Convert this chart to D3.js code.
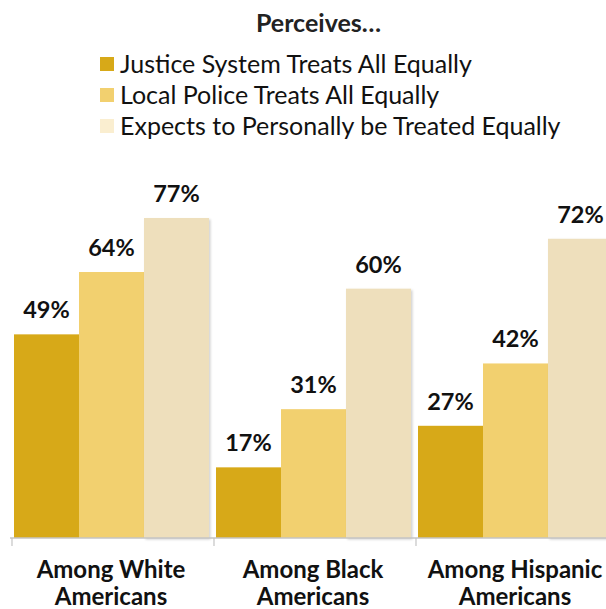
<!DOCTYPE html>
<html>
<head>
<meta charset="utf-8">
<script src="https://cdn.jsdelivr.net/npm/d3@7"></script>
<style>
  body { margin: 0; background: #fff; }
  svg { display: block; font-family: Lato, 'Open Sans', sans-serif; }
  .barLabel { font-weight: 700; font-size: 23.5px; fill: #111; }
  .catLabel { font-weight: 700; font-size: 24px; fill: #111; }
  .legend text { font-size: 25px; fill: #111; }
  .title { font-weight: 700; font-size: 25px; fill: #222; }
</style>
</head>
<body>
<div class="container"></div>
<script>
  const categories = [['Among White', 'Americans'], ['Among Black', 'Americans'], ['Among Hispanic', 'Americans']]
  const seriesNames = ['Justice System Treats All Equally', 'Local Police Treats All Equally', 'Expects to Personally be Treated Equally']
  const justice = [49, 17, 27]
  const police = [64, 31, 42]
  const personal = [77, 60, 72]
  const colors = ['#D7A918', '#F2D06F', '#EEDFBC']
  const legendColors = ['#D7A918', '#F2D06F', '#FAEED0']

  var width = 606
  var height = 609
  var series = [justice, police, personal]

  var svg = d3.select('.container')
              .append('svg')
              .attr('width', width)
              .attr('height', height)

  var defs = svg.append('defs')
  var shadow = defs.append('filter')
                   .attr('id', 'shadow')
                   .attr('x', '-10%').attr('y', '-10%')
                   .attr('width', '130%').attr('height', '130%')
  shadow.append('feDropShadow')
        .attr('dx', 1.5).attr('dy', 1.5)
        .attr('stdDeviation', 1.2)
        .attr('flood-color', '#000')
        .attr('flood-opacity', 0.18)

  // x: one band per group, bars inside
  var x0 = d3.scaleBand()
             .domain(d3.range(categories.length))
             .range([12, 12 + 202 * 3])
             .paddingInner(0)
             .paddingOuter(0)

  var x1 = d3.scaleBand()
             .domain(d3.range(series.length))
             .range([2, 197])

  var y = d3.scaleLinear()
            .domain([0, 100])
            .range([538, 122.4])

  // title + legend
  svg.append('text')
     .attr('class', 'title')
     .attr('x', 318.5)
     .attr('y', 32)
     .attr('text-anchor', 'middle')
     .text('Perceives…')

  var legend = svg.append('g')
                  .attr('class', 'legend')
                  .selectAll('g')
                  .data(seriesNames)
                  .enter()
                  .append('g')
                  .attr('transform', function (d, i) {
                    return 'translate(100,' + (57 + i * 31) + ')'
                  })

  legend.append('rect')
        .attr('width', 14)
        .attr('height', 14)
        .attr('fill', function (d, i) { return legendColors[i] })

  legend.append('text')
        .attr('x', 20)
        .attr('y', 16)
        .text(function (d) { return d })

  // bars
  var groups = svg.selectAll('.group')
                  .data(categories)
                  .enter()
                  .append('g')
                  .attr('class', 'group')
                  .attr('transform', function (d, i) {
                    return 'translate(' + x0(i) + ',0)'
                  })

  groups.each(function (cat, gi) {
    var g = d3.select(this)
    var vals = series.map(function (s, si) { return { s: si, v: s[gi] } })

    g.selectAll('rect')
     .data(vals)
     .enter()
     .append('rect')
     .attr('x', function (d) { return x1(d.s) })
     .attr('y', function (d) { return y(d.v) })
     .attr('width', x1.bandwidth())
     .attr('height', function (d) { return y(0) - y(d.v) })
     .attr('fill', function (d) { return colors[d.s] })
     .attr('filter', function (d) { return d.s === 2 ? 'url(#shadow)' : null })

    g.selectAll('.barLabel')
     .data(vals)
     .enter()
     .append('text')
     .attr('class', 'barLabel')
     .attr('x', function (d) { return x1(d.s) + x1.bandwidth() / 2 })
     .attr('y', function (d) { return y(d.v) - 16 })
     .attr('text-anchor', 'middle')
     .text(function (d) { return d.v + '%' })
  })

  // axis
  var axis = svg.append('g')
                .attr('transform', 'translate(0,' + y(0) + ')')
                .call(d3.axisBottom(x0).tickSize(0).tickFormat(''))
  axis.select('.domain').remove()
  axis.append('line')
      .attr('x1', 10).attr('x2', width)
      .attr('stroke', '#c4c4c4')
      .attr('stroke-width', 1.5)

  axis.selectAll('.tickMark')
      .data(d3.range(categories.length))
      .enter()
      .append('line')
      .attr('x1', function (d) { return x0(d) })
      .attr('x2', function (d) { return x0(d) })
      .attr('y1', 0)
      .attr('y2', 8)
      .attr('stroke', '#c4c4c4')
      .attr('stroke-width', 1.2)

  var cat = svg.selectAll('.catLabel')
               .data(categories)
               .enter()
               .append('text')
               .attr('class', 'catLabel')
               .attr('text-anchor', 'middle')
               .attr('x', function (d, i) { return x0(i) + x0.bandwidth() / 2 - 2 })
               .attr('y', 578)

  cat.selectAll('tspan')
     .data(function (d) { return d })
     .enter()
     .append('tspan')
     .attr('x', function () { return d3.select(this.parentNode).attr('x') })
     .attr('dy', function (d, i) { return i === 0 ? 0 : 27 })
     .text(function (d) { return d })
</script>
</body>
</html>
